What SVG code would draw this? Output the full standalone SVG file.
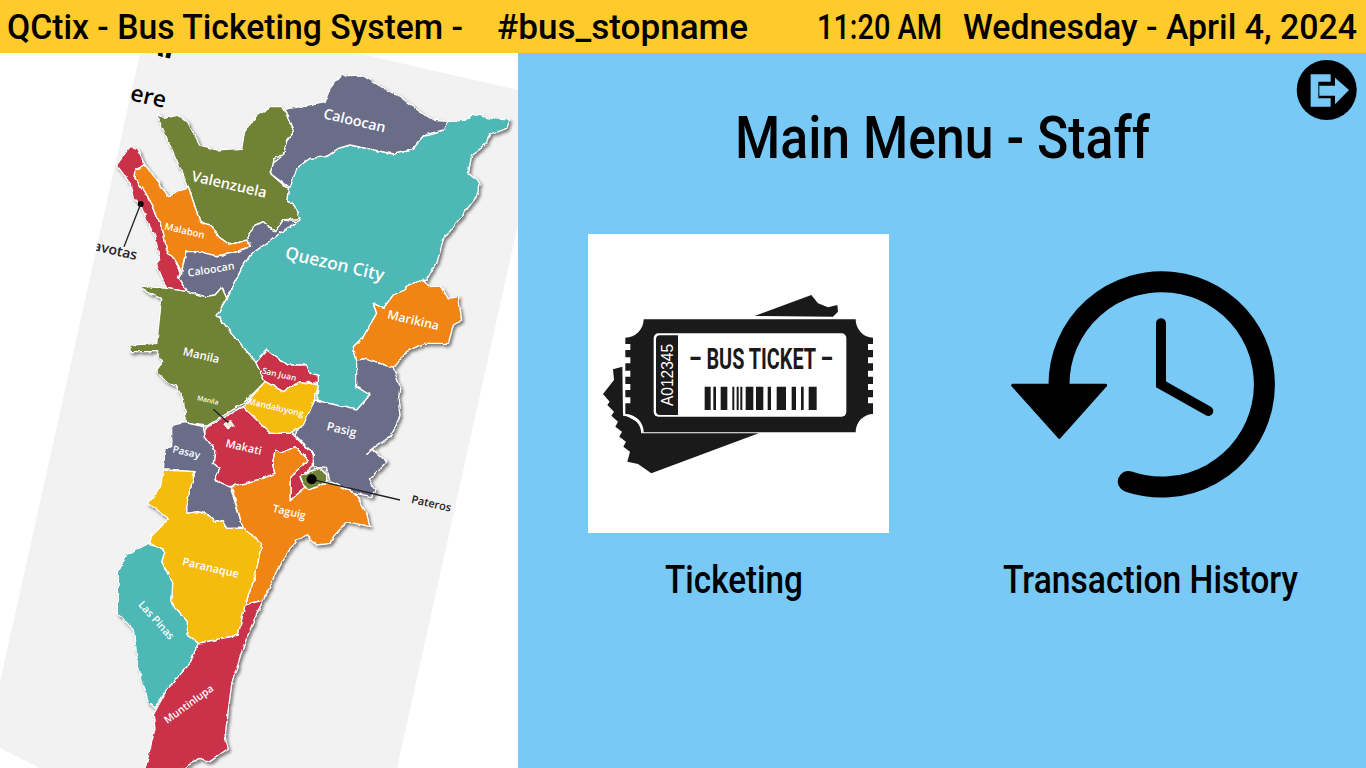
<svg xmlns="http://www.w3.org/2000/svg" width="1366" height="768" viewBox="0 0 1366 768">
<style>
.hd{font-family:"Roboto","Liberation Sans",sans-serif;font-size:34.5px;fill:#000;font-weight:500}
.ui{font-family:"Roboto","Liberation Sans",sans-serif;fill:#000;font-weight:500}
.r{stroke:#fff;stroke-width:4;stroke-linejoin:round}
.sl{fill:#6b6d87}.ol{fill:#6f8236}.cr{fill:#c9304a}.or{fill:#f08513}.te{fill:#4db8b5}.ye{fill:#f5bb10}
.ml{font-family:"Open Sans","Liberation Sans",sans-serif;fill:#fff;font-weight:600}
.bl{font-family:"Open Sans","Liberation Sans",sans-serif;fill:#222;font-weight:600}
</style>
<defs>
<filter id="sh" filterUnits="userSpaceOnUse" x="-50" y="-50" width="1500" height="2400">
<feTurbulence type="fractalNoise" baseFrequency=".045" numOctaves="2" seed="4" result="n"/>
<feDisplacementMap in="SourceGraphic" in2="n" scale="12" xChannelSelector="R" yChannelSelector="G" result="d"/>
<feDropShadow in="d" dx="6" dy="7" stdDeviation="4" flood-color="#666" flood-opacity=".85" result="s"/>
<feGaussianBlur in="s" stdDeviation="1"/>
</filter>
<clipPath id="paper"><polygon points="140,53 357,53 518,90 518,224 397,768 40,768 0,748 0,682"/></clipPath>
</defs>
<rect width="1366" height="768" fill="#fff"/>
<g id="map">
<polygon points="140,53 357,53 518,90 518,224 397,768 40,768 0,748 0,682" fill="#f2f2f2"/>
<g clip-path="url(#paper)">
<g transform="translate(100 50) scale(.33333)">
<g filter="url(#sh)">
<polygon class="r te" points="1040,215 1100,210 1120,190 1170,205 1230,210 1220,235 1170,255 1150,290 1115,315 1105,370 1140,400 1130,440 1060,530 1030,570 1010,640 980,690 940,700 915,720 880,735 850,775 820,760 830,790 790,860 760,890 770,930 770,1010 810,1035 770,1080 720,1075 650,1050 655,1000 630,970 620,945 560,945 500,900 468,938 350,795 380,745 420,665 450,615 540,550 600,510 578,460 560,455 565,418 590,355 630,325 680,320 715,295 750,285 800,295 880,312 935,300 975,255 1030,240"/>
<polygon class="r sl" points="555,178 675,155 690,115 725,72 740,80 790,78 860,120 900,140 960,185 1000,210 1040,215 1030,240 975,255 935,300 880,312 800,295 750,285 715,295 680,320 630,325 590,355 570,415 510,370 520,340 550,315 560,270 582,240"/>
<polygon class="r ol" points="168,190 190,205 235,195 262,215 300,285 350,300 425,295 435,240 470,200 510,170 545,170 582,240 560,270 550,315 525,320 510,370 565,418 560,455 578,460 600,505 550,510 525,545 490,515 460,530 440,570 390,585 355,560 340,530 300,515 265,410"/>
<polygon class="r cr" points="50,345 90,290 110,295 135,345 108,358 105,385 135,425 160,470 190,545 200,600 225,630 240,670 235,685 262,725 200,715 170,645 180,630 165,560 140,510 125,470 100,445 90,400"/>
<polygon class="r or" points="108,360 135,345 175,395 205,440 265,410 300,515 340,530 355,560 390,585 440,570 452,590 410,605 360,620 300,605 258,605 250,640 245,670 225,630 200,600 190,545 160,470 135,425 105,385"/>
<polygon class="r sl" points="258,605 300,605 360,620 410,605 452,590 440,570 460,530 490,515 525,545 550,510 590,515 540,550 450,615 420,665 380,745 365,712 345,735 315,740 262,725 235,685 245,670 250,640"/>
<polygon class="r or" points="820,760 850,775 880,735 915,720 925,705 970,690 985,710 1020,708 1045,745 1075,740 1085,810 1060,825 1045,880 1000,880 970,880 920,905 880,955 800,925 770,930 760,890 790,860 830,790"/>
<polygon class="r sl" points="770,930 800,925 880,955 900,1010 895,1050 900,1100 870,1160 800,1210 820,1200 860,1235 805,1290 825,1320 815,1340 770,1330 690,1295 680,1255 640,1250 640,1210 585,1155 645,1050 770,1080 810,1035 770,1010"/>
<polygon class="r ol" points="125,708 200,715 262,725 315,740 345,735 365,712 380,745 350,795 468,938 495,995 430,1060 320,1128 260,1120 250,1050 230,1010 190,990 170,960 188,935 170,905 90,905 90,885 170,880 185,745 125,718"/>
<polygon class="r cr" points="500,900 560,945 620,945 630,970 655,975 655,1000 600,995 550,1025 495,995 468,938"/>
<polygon class="r ye" points="495,995 550,1025 600,995 655,1005 640,1060 610,1125 575,1150 510,1150 430,1070"/>
<polygon class="r sl" points="215,1125 255,1118 310,1130 315,1160 345,1200 340,1240 360,1255 345,1290 390,1310 430,1435 380,1435 365,1410 345,1415 325,1395 295,1385 260,1390 260,1360 285,1265 190,1260 195,1195 215,1190"/>
<polygon class="r cr" points="315,1135 430,1070 510,1150 575,1150 640,1215 640,1250 605,1280 615,1315 570,1350 570,1280 625,1230 585,1190 545,1210 525,1200 518,1240 525,1270 490,1285 390,1310 345,1290 360,1255 340,1240 345,1200 315,1160"/>
<polygon class="r or" points="525,1200 545,1210 585,1190 625,1230 570,1280 570,1350 615,1315 625,1320 650,1310 690,1295 765,1330 800,1390 810,1430 740,1415 700,1460 690,1480 650,1485 620,1455 590,1470 540,1540 520,1590 490,1650 435,1665 465,1580 485,1480 430,1440 395,1310 490,1285 525,1270 518,1240"/>
<polygon class="r ye" points="190,1260 285,1265 260,1360 260,1390 295,1385 325,1395 345,1415 365,1410 380,1435 430,1435 485,1480 465,1580 435,1665 415,1755 295,1780 260,1755 262,1715 215,1660 218,1600 185,1535 195,1505 150,1480 155,1455 205,1405 145,1360 180,1315"/>
<polygon class="r te" points="145,1480 195,1505 185,1535 218,1600 215,1660 262,1715 260,1755 295,1780 270,1840 200,1920 165,1975 145,1955 115,1850 100,1740 55,1690 55,1565 80,1515"/>
<polygon class="r cr" points="490,1650 435,1665 415,1755 295,1780 270,1840 200,1920 160,1995 165,2035 135,2160 240,2160 300,2125 330,2135 385,2095 375,2060 395,1900 430,1790 470,1690"/>
<polygon class="r ol" points="600,1280 630,1265 660,1255 680,1275 680,1295 650,1310 625,1320 610,1305"/>
<polygon fill="#f2e6c0" stroke="#fff" stroke-width="4" points="372,1122 392,1112 402,1126 384,1136"/>
</g>
<path d="M340,1078 L385,1118 M635,1288 L900,1350" stroke="#222" stroke-width="4" fill="none"/>
<circle cx="635" cy="1288" r="15" fill="#000"/>
<circle cx="122" cy="462" r="9" fill="#000"/>
<path d="M122,462 L72,590" stroke="#222" stroke-width="4" fill="none"/>
<text class="bl" x="88" y="150" font-size="68" transform="rotate(13 88 150)" style="fill:#000">ere</text>
<text class="bl" x="128" y="7" font-size="90" transform="rotate(13 128 7)" style="fill:#000;font-weight:700">AP</text>
<text class="bl" x="108" y="630" font-size="42" text-anchor="end" transform="rotate(13 108 630)">avotas</text>
<text class="bl" x="932" y="1358" font-size="33" transform="rotate(13 932 1358)">Pateros</text>
<g class="ml">
<text x="668" y="205" font-size="43" transform="rotate(13 668 205)">Caloocan</text>
<text x="272" y="392" font-size="44" transform="rotate(13 272 392)">Valenzuela</text>
<text x="192" y="538" font-size="29" transform="rotate(13 192 538)">Malabon</text>
<text x="265" y="680" font-size="32" transform="rotate(-9 265 680)">Caloocan</text>
<text x="553" y="625" font-size="52" transform="rotate(13 553 625)">Quezon City</text>
<text x="860" y="805" font-size="37" transform="rotate(13 860 805)">Marikina</text>
<text x="247" y="915" font-size="34" transform="rotate(13 247 915)">Manila</text>
<text x="485" y="970" font-size="25" transform="rotate(13 485 970)">San Juan</text>
<text x="290" y="1050" font-size="20" transform="rotate(13 290 1050)">Manila</text>
<text x="442" y="1062" font-size="26" transform="rotate(13 442 1062)">Mandaluyong</text>
<text x="678" y="1140" font-size="36" transform="rotate(13 678 1140)">Pasig</text>
<text x="375" y="1190" font-size="33" transform="rotate(13 375 1190)">Makati</text>
<text x="216" y="1207" font-size="30" transform="rotate(13 216 1207)">Pasay</text>
<text x="516" y="1385" font-size="32" transform="rotate(13 516 1385)">Taguig</text>
<text x="245" y="1545" font-size="33" transform="rotate(13 245 1545)">Paranaque</text>
<text x="113" y="1665" font-size="32" transform="rotate(48 113 1665)">Las Pinas</text>
<text x="202" y="2022" font-size="31" transform="rotate(-36 202 2022)">Muntinlupa</text>
</g>
</g>
</g>
</g>
<rect x="518" y="53" width="848" height="715" fill="#78c9f5"/>
<g id="header">
<rect width="1366" height="53" fill="#ffca2c"/>
<text class="hd" x="7" y="39" textLength="456" lengthAdjust="spacingAndGlyphs">QCtix - Bus Ticketing System -</text>
<text class="hd" x="497" y="39" textLength="251" lengthAdjust="spacingAndGlyphs">#bus_stopname</text>
<text class="hd" x="817" y="39" textLength="125" lengthAdjust="spacingAndGlyphs">11:20 AM</text>
<text class="hd" x="963" y="39" textLength="394" lengthAdjust="spacingAndGlyphs">Wednesday - April 4, 2024</text>
</g>
<g id="exit">
<circle cx="1326.7" cy="90" r="30" fill="#000"/>
<g transform="translate(1280 55) scale(.33333)" fill="#78c9f5">
<polygon points="92,58 152,58 152,80 115,80 115,130 152,130 152,155 92,155"/>
<polygon points="118,92 165,92 165,68 207,105 165,148 165,122 118,122"/>
</g>
</g>
<text id="title" class="ui" x="735" y="158" font-size="59" textLength="415" lengthAdjust="spacingAndGlyphs">Main Menu - Staff</text>
<g id="ticketing">
<rect x="588" y="234" width="301" height="299" fill="#fff"/>
<g transform="translate(588 270) scale(.33333)">
<polygon fill="#1a1a1a" points="500,138 670,75 690,100 720,112 748,105 750,125 735,140"/>
<polygon fill="#1a1a1a" points="103,290 75,298 78,330 45,372 65,395 58,405 78,425 70,437 90,455 82,470 102,485 94,500 114,515 106,530 126,545 118,575 150,582 190,610 512,490 165,490 155,460 105,432"/>
<path fill="#1a1a1a" d="M167,148H803A52,55 0 0 0 855,203V222H840V240H855V262H840V280H855V302H840V320H855V342H840V360H855V382H840V400H855V432A52,55 0 0 0 803,487H167A55,55 0 0 0 112,432V400H127V382H112V360H127V342H112V320H127V302H112V280H127V262H112V240H127V222H112V203A55,55 0 0 0 167,148Z"/>
<path fill="none" stroke="#fff" stroke-width="5" d="M105,435A60,55 0 0 1 162,490"/>
<rect x="197" y="190" width="578" height="250" rx="14" fill="#fff"/>
<path fill="#1a1a1a" d="M216,196H270V435H216A12,12 0 0 1 204,423V208A12,12 0 0 1 216,196Z"/>
<text x="0" y="0" transform="translate(254 408) rotate(-90)" font-family="Liberation Sans,sans-serif" font-size="47" fill="#fff" textLength="186" lengthAdjust="spacingAndGlyphs">A012345</text>
<text x="303" y="297" font-family="Roboto,Liberation Sans,sans-serif" font-weight="700" font-size="87" fill="#1a1a1a" textLength="432" lengthAdjust="spacingAndGlyphs">– BUS TICKET –</text>
<path fill="#1a1a1a" d="M350,350h18v70h-18zM376,350h8v70h-8zM398,350h20v70h-20zM433,350h6v70h-6zM446,350h6v70h-6zM457,350h6v70h-6zM473,350h23v70h-23zM504,350h22v70h-22zM539,350h10v70h-10zM566,350h28v70h-28zM611,350h13v70h-13zM639,350h8v70h-8zM662,350h24v70h-24z"/>
</g>
</g>
<text id="ticketing-label" class="ui" x="665" y="593" font-size="38" textLength="138" lengthAdjust="spacingAndGlyphs">Ticketing</text>
<g id="history">
<path d="M1059,384.3A102.7,102.7 0 1 1 1128.3,481.5" fill="none" stroke="#000" stroke-width="21" stroke-linecap="round"/>
<polygon points="1012.7,385.3 1105.7,385.3 1059.3,437.3" fill="#000" stroke="#000" stroke-width="3" stroke-linejoin="round"/>
<path d="M1161,323.3V384.3L1208.3,411" fill="none" stroke="#000" stroke-width="10" stroke-linecap="round"/>
</g>
<text id="history-label" class="ui" x="1003" y="593" font-size="38" textLength="295" lengthAdjust="spacingAndGlyphs">Transaction History</text>
</svg>
